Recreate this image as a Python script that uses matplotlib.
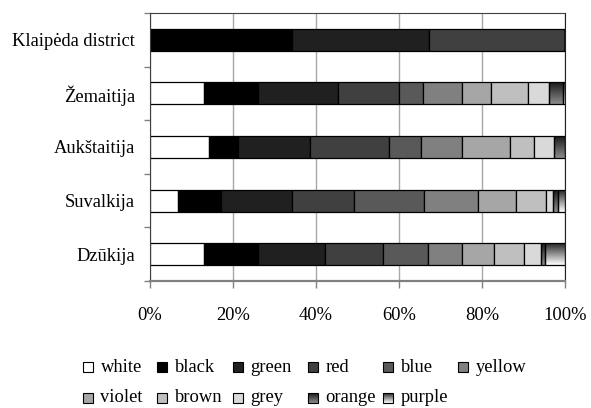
import numpy as np
import matplotlib
matplotlib.use("Agg")
import matplotlib.pyplot as plt
from matplotlib.colors import LinearSegmentedColormap
from matplotlib.patches import Rectangle

plt.rcParams["font.family"] = ["Liberation Serif", "DejaVu Serif"]
plt.rcParams["font.size"] = 13.3

# Share of each colour in every region, percent
regions = ["Klaipėda district", "Žemaitija", "Aukštaitija", "Suvalkija", "Dzūkija"]
white = [0.0, 12.9, 14.1, 6.8, 12.9]
black = [34.2, 13.1, 7.0, 10.3, 13.1]
green = [33.0, 19.2, 17.4, 17.1, 16.1]
red = [32.8, 14.9, 19.1, 14.9, 14.0]
blue = [0.0, 5.8, 7.8, 16.9, 11.0]
yellow = [0.0, 9.2, 9.7, 13.1, 8.0]
violet = [0.0, 7.0, 11.6, 9.2, 7.9]
brown = [0.0, 8.9, 5.9, 7.1, 7.1]
grey = [0.0, 5.2, 4.8, 1.8, 4.0]
orange = [0.0, 3.2, 2.6, 1.0, 1.1]
purple = [0.0, 0.6, 0.0, 1.8, 4.8]

series_names = ["white", "black", "green", "red", "blue", "yellow",
                "violet", "brown", "grey", "orange", "purple"]
series = [white, black, green, red, blue, yellow,
          violet, brown, grey, orange, purple]
x_ticks = [0, 20, 40, 60, 80, 100]

# greyscale fills; orange and purple get vertical gradients
fills = {
    "white": "#ffffff", "black": "#000000", "green": "#202020",
    "red": "#404040", "blue": "#595959", "yellow": "#808080",
    "violet": "#a6a6a6", "brown": "#bfbfbf", "grey": "#d9d9d9",
}
gradients = {
    "orange": LinearSegmentedColormap.from_list("orange_g", ["#1a1a1a", "#8c8c8c"]),
    "purple": LinearSegmentedColormap.from_list("purple_g", ["#262626", "#ffffff"]),
}
ramp = np.linspace(0, 1, 64).reshape(-1, 1)

fig = plt.figure(figsize=(5.91, 4.08), dpi=100)
ax = fig.add_axes([150 / 591, 1 - 281 / 408, 415 / 591, 268 / 408])

y = np.arange(len(regions))
left = np.zeros(len(regions))
for name, vals in zip(series_names, series):
    vals = np.array(vals)
    if name in gradients:
        bars = ax.barh(y, vals, left=left, height=0.41, facecolor="none",
                       edgecolor="black", linewidth=0.9, zorder=3)
        for b in bars:
            x0, y0, w, h = b.get_x(), b.get_y(), b.get_width(), b.get_height()
            if w <= 0:
                continue
            ax.imshow(ramp, cmap=gradients[name], aspect="auto",
                      extent=[x0, x0 + w, y0 + h, y0], zorder=2,
                      interpolation="bilinear")
    else:
        ax.barh(y, vals, left=left, height=0.41, color=fills[name],
                edgecolor="black", linewidth=0.9, zorder=3)
    left += vals

ax.set_xlim(0, 100)
ax.set_ylim(len(regions) - 0.5, -0.5)
ax.set_xticks(x_ticks)
ax.set_xticklabels([f"{v}%" for v in x_ticks])
ax.set_yticks(np.arange(len(regions) + 1) - 0.5)
ax.set_yticklabels([])
ax.set_yticks(y, minor=True)
ax.set_yticklabels(regions, minor=True)
ax.tick_params(axis="y", which="minor", length=0, pad=11)
ax.tick_params(axis="y", which="major", length=4, color="#808080", width=1)
ax.tick_params(axis="x", length=5, color="#808080", width=1, pad=14)
ax.grid(axis="x", color="#a8a8a8", linewidth=1, zorder=0)
ax.set_axisbelow(True)

ax.spines["left"].set_color("#404040")
ax.spines["bottom"].set_color("#808080")
ax.spines["bottom"].set_linewidth(1.6)
ax.spines["top"].set_color("#404040")
ax.spines["right"].set_color("#202020")
for s in ax.spines.values():
    s.set_zorder(4)

# legend below the plot, laid out in pixel units
lax = fig.add_axes([0, 0, 1, 1], zorder=-1)
lax.set_xlim(0, 591)
lax.set_ylim(408, 0)
lax.axis("off")
col_x = [83, 157, 233, 308, 383, 458]
row_y = [367, 398]
sq = 10
for i, name in enumerate(series_names):
    cx = col_x[i % 6]
    cy = row_y[i // 6]
    if name in gradients:
        lax.imshow(ramp, cmap=gradients[name], aspect="auto",
                   extent=[cx, cx + sq, cy + sq / 2, cy - sq / 2],
                   interpolation="bilinear")
        lax.add_patch(Rectangle((cx, cy - sq / 2), sq, sq, facecolor="none",
                                edgecolor="black", linewidth=0.8))
    else:
        lax.add_patch(Rectangle((cx, cy - sq / 2), sq, sq, facecolor=fills[name],
                                edgecolor="black", linewidth=0.8))
    lax.text(cx + 17.5, cy, name, va="center", ha="left")

fig.savefig("out.png", dpi=100)
